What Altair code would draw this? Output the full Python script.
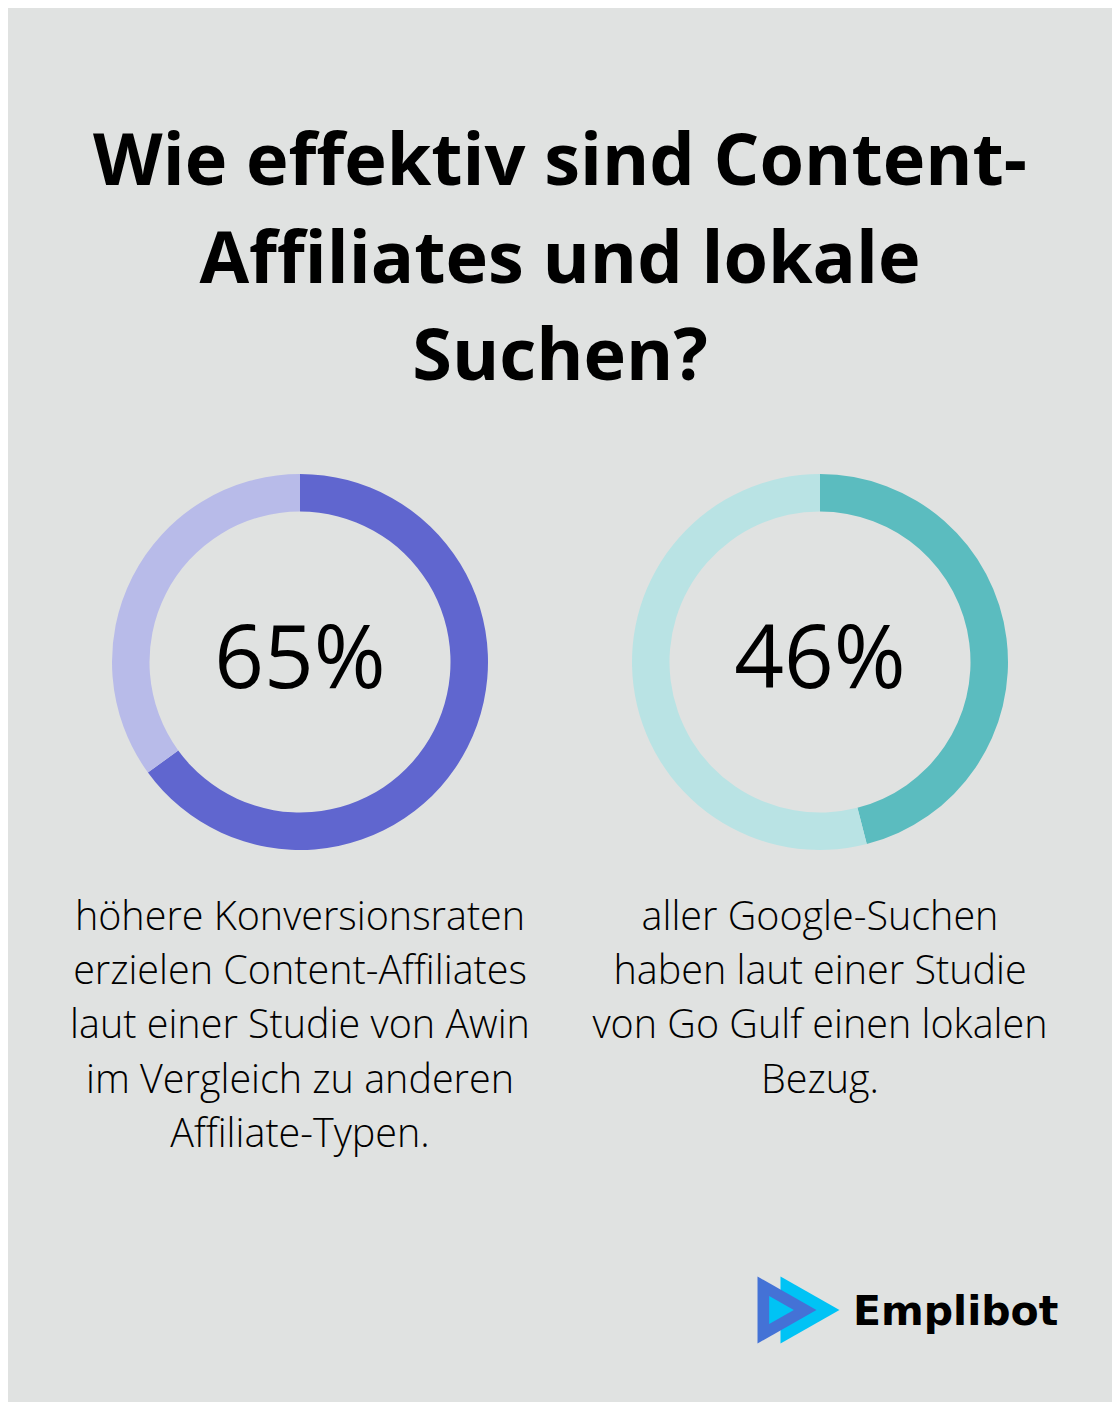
import altair as alt
import pandas as pd

# ---- data ----
title_lines = ["Wie effektiv sind Content-", "Affiliates und lokale", "Suchen?"]
donut_labels = ["65%", "46%"]
donut_values = [65, 46]
desc_left = ["höhere Konversionsraten", "erzielen Content-Affiliates",
             "laut einer Studie von Awin", "im Vergleich zu anderen", "Affiliate-Typen."]
desc_right = ["aller Google-Suchen", "haben laut einer Studie",
              "von Go Gulf einen lokalen", "Bezug."]
donut_colors = [["#6066CF", "#B8BBE9"], ["#5BBCBF", "#B9E3E4"]]
brand = "Emplibot"

BG = "#E0E2E1"
W, H = 1104, 1394

def donut_df(v, cols):
    return pd.DataFrame({"part": ["value", "rest"], "value": [v, 100 - v],
                         "order": [0, 1], "color": cols})

layers = []
centers = [292, 812]
for i in range(2):
    df = donut_df(donut_values[i], donut_colors[i])
    arc = alt.Chart(df).mark_arc(radius=188, radius2=150.5, stroke=None).encode(
        theta=alt.Theta("value:Q", stack=True, scale=alt.Scale(domain=[0, 100])),
        order=alt.Order("order:Q"),
        color=alt.Color("color:N", scale=None),
        x=alt.value(centers[i]),
        y=alt.value(654),
    )
    layers.append(arc)
    num = alt.Chart(pd.DataFrame({"t": [donut_labels[i]]})).mark_text(
        font="Open Sans", fontSize=87, fontWeight=400, color="#000000",
        align="center", baseline="alphabetic"
    ).encode(text="t:N", x=alt.value(centers[i]), y=alt.value(680))
    layers.append(num)

one = pd.DataFrame({"a": [0]})

title = alt.Chart(one).mark_text(
    font="Open Sans", fontSize=72, fontWeight="bold", color="#000000",
    align="center", baseline="alphabetic", lineHeight=97.5
).encode(text=alt.value(title_lines), x=alt.value(552), y=alt.value(177))
layers.append(title)

for lines, cx in [(desc_left, 292), (desc_right, 812)]:
    d = alt.Chart(one).mark_text(
        font="Open Sans", fontSize=39.5, fontWeight=300, color="#000000",
        align="center", baseline="alphabetic", lineHeight=54.2
    ).encode(text=alt.value(lines), x=alt.value(cx), y=alt.value(922))
    layers.append(d)

tri = "M-0.88,-1L0.88,0L-0.88,1Z"
logo_parts = [
    (802, 1302, 4489, "#00C3F5"),
    (779, 1302, 4489, "#4472D6"),
    (773.5, 1302, 784, "#00C3F5"),
]
for x, y, s, c in logo_parts:
    layers.append(alt.Chart(one).mark_point(
        shape=tri, filled=True, size=s, color=c, opacity=1, strokeWidth=0
    ).encode(x=alt.value(x), y=alt.value(y)))

layers.append(alt.Chart(pd.DataFrame({"t": [brand]})).mark_text(
    font="DejaVu Sans", fontSize=41, fontWeight="bold", color="#000000",
    align="left", baseline="alphabetic"
).encode(text="t:N", x=alt.value(845), y=alt.value(1317)))

chart = alt.layer(*layers).properties(
    width=W, height=H, background=BG, padding=0,
    autosize=alt.AutoSizeParams(type="none")
).configure_view(stroke=None)

chart.save("out.html", embed_options={"renderer": "svg", "actions": False})
